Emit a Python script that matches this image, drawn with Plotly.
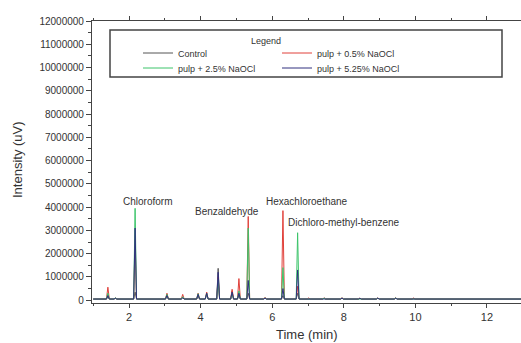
import plotly.graph_objects as go

# Peak retention times (min) shared by all chromatograms
peak_times = [1.41, 1.62, 2.17, 3.06, 3.50, 3.93, 4.17, 4.49, 4.88, 5.07, 5.33, 5.80, 6.30, 6.71, 7.02,
              7.45, 7.95, 8.45, 8.95, 9.45, 9.95]

# Peak heights (uV) for each sample
control = [150000, 80000, 350000, 250000, 100000, 200000, 250000, 1370000, 400000, 200000, 300000, 100000, 200000, 300000, 80000,
           90000, 80000, 90000, 80000, 90000, 80000]
pulp_05 = [560000, 100000, 2600000, 300000, 250000, 300000, 350000, 1000000, 470000, 930000, 3600000, 120000, 3850000, 600000, 100000,
           100000, 110000, 90000, 100000, 110000, 90000]
pulp_25 = [300000, 100000, 3950000, 250000, 150000, 280000, 300000, 900000, 300000, 400000, 3100000, 100000, 1400000, 2900000, 80000,
           90000, 100000, 80000, 90000, 100000, 80000]
pulp_525 = [200000, 80000, 3100000, 200000, 100000, 250000, 300000, 1200000, 350000, 300000, 850000, 80000, 500000, 1300000, 60000,
            80000, 90000, 80000, 90000, 80000, 70000]

baseline = 50000
time_start, time_end = 1.0, 13.0

series_names = ["Control", "pulp + 0.5% NaOCl", "pulp + 2.5% NaOCl", "pulp + 5.25% NaOCl"]
series_values = [control, pulp_05, pulp_25, pulp_525]
series_colors = ["#555555", "#e0403a", "#3cc46a", "#30307e"]
series_legend = ["legend", "legend", "legend2", "legend2"]

labels = ["Chloroform", "Benzaldehyde", "Hexachloroethane", "Dichloro-methyl-benzene"]
label_x = [2.53, 4.75, 6.97, 8.0]
label_y = [4260000, 3830000, 4260000, 3320000]

HW = 0.04  # half width of a drawn peak (style)

# plot-area geometry in pixels (style)
L, R, T, B = 92, 521, 21, 303
W, H = R - L, B - T


def px_x(p):
    return (p - L) / W


def px_y(p):
    return (B - p) / H


def chromatogram(heights):
    xs, ys = [time_start], [baseline]
    for t, h in zip(peak_times, heights):
        xs += [t - HW, t, t + HW]
        ys += [baseline, h, baseline]
    xs.append(time_end)
    ys.append(baseline)
    return xs, ys


fig = go.Figure()
for name, vals, col, lg in zip(series_names, series_values, series_colors, series_legend):
    xs, ys = chromatogram(vals)
    fig.add_trace(go.Scatter(x=xs, y=ys, mode="lines", name=name,
                             line=dict(color=col, width=1), legend=lg))

FONT = "Arial, Liberation Sans, sans-serif"

for txt, x, y in zip(labels, label_x, label_y):
    fig.add_annotation(x=x, y=y, text=txt, showarrow=False,
                       xanchor="center", yanchor="middle",
                       font=dict(family=FONT, size=10, color="#333333"))

# legend box and title
fig.add_shape(type="rect", xref="paper", yref="paper",
              x0=px_x(110), x1=px_x(502), y0=px_y(77), y1=px_y(30),
              line=dict(color="#444444", width=1.5), fillcolor="rgba(0,0,0,0)")
fig.add_annotation(xref="paper", yref="paper", x=px_x(266), y=px_y(41),
                   text="Legend", showarrow=False, xanchor="center", yanchor="middle",
                   font=dict(family=FONT, size=9, color="#333333"))

# axis titles
fig.add_annotation(xref="paper", yref="paper", x=px_x(307), y=px_y(334),
                   text="Time (min)", showarrow=False, xanchor="center", yanchor="middle",
                   font=dict(family=FONT, size=13, color="#333333"))
fig.add_annotation(xref="paper", yref="paper", x=px_x(17), y=px_y(160),
                   text="Intensity (uV)", showarrow=False, textangle=-90,
                   xanchor="center", yanchor="middle",
                   font=dict(family=FONT, size=13, color="#333333"))

legend_common = dict(bgcolor="rgba(0,0,0,0)", borderwidth=0,
                     font=dict(family=FONT, size=9, color="#333333"),
                     orientation="h", entrywidth=94, entrywidthmode="pixels",
                     xanchor="left", yanchor="top")

fig.update_layout(
    width=521, height=343,
    margin=dict(l=L, r=521 - R, t=T, b=343 - B),
    paper_bgcolor="white", plot_bgcolor="white",
    font=dict(family=FONT, color="#333333"),
    showlegend=True,
    legend=dict(x=px_x(138), y=px_y(38.5), **legend_common),
    legend2=dict(x=px_x(138), y=px_y(53.5), **legend_common),
    xaxis=dict(range=[0.966, 12.95], showgrid=False, zeroline=False, automargin=False,
               showline=True, linecolor="#444444", linewidth=1.2, mirror="ticks",
               ticks="outside", ticklen=4, tickcolor="#444444",
               dtick=2, tick0=0,
               minor=dict(ticks="outside", ticklen=2, dtick=1, tick0=0, tickcolor="#444444"),
               tickfont=dict(family=FONT, size=11, color="#333333")),
    yaxis=dict(range=[-120000, 12000000], showgrid=False, zeroline=False, automargin=False,
               showline=True, linecolor="#444444", linewidth=1.2,
               ticks="outside", ticklen=5, tickcolor="#444444",
               dtick=1000000, tick0=0, tickformat="d",
               minor=dict(ticks="outside", ticklen=3, dtick=500000, tick0=0, tickcolor="#444444"),
               tickfont=dict(family=FONT, size=10, color="#333333")),
)

fig.write_html("out.html", config={"displayModeBar": False},
               post_script="document.body.style.margin='0';")
